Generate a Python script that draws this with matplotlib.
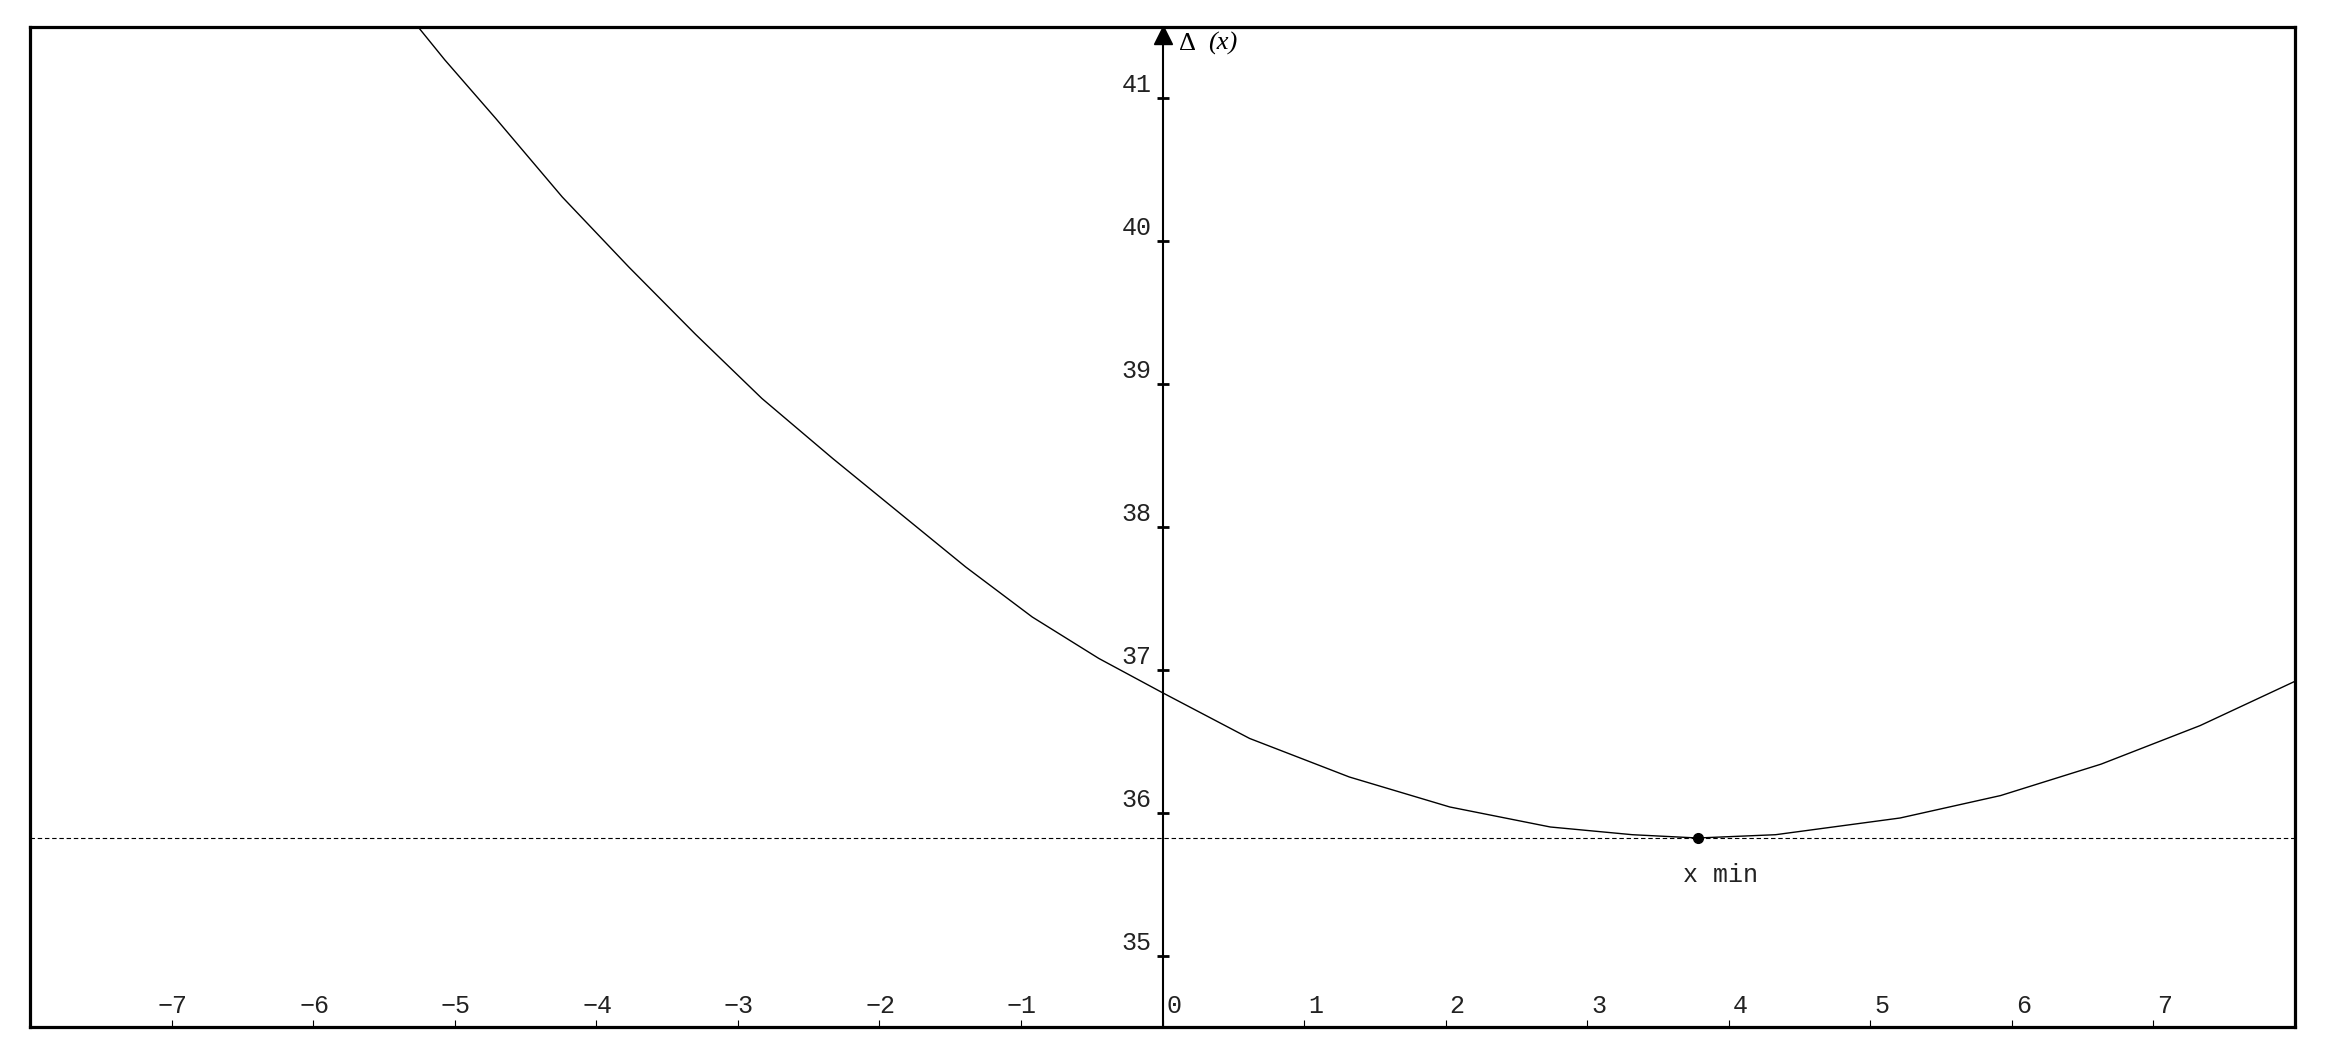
import matplotlib
matplotlib.use("Agg")
import matplotlib.pyplot as plt
from matplotlib.transforms import offset_copy

# curve points
curve_x = [-5.25, -5.07, -4.71, -4.24, -3.77, -3.30, -2.83, -2.33, -1.86, -1.39, -0.92, -0.45, 0.0,
           0.615, 1.32, 2.03, 2.74, 3.32, 3.78, 4.33, 5.21, 5.92, 6.63, 7.33, 8.0]
curve_y = [41.49, 41.27, 40.86, 40.31, 39.82, 39.35, 38.90, 38.48, 38.10, 37.72, 37.37, 37.08, 36.84,
           36.52, 36.25, 36.04, 35.90, 35.846, 35.823, 35.846, 35.963, 36.12, 36.34, 36.61, 36.92]
x_min, y_min = 3.78, 35.823
x_ticks = [-7, -6, -5, -4, -3, -2, -1, 0, 1, 2, 3, 4, 5, 6, 7]
y_ticks = [35, 36, 37, 38, 39, 40, 41]

plt.rcParams["font.family"] = ["Liberation Mono", "DejaVu Sans Mono"]

W, H = 2335, 1059
fig = plt.figure(figsize=(W / 100, H / 100), dpi=100)
ax = fig.add_axes([30 / W, 32 / H, 2265 / W, 1000 / H])
ax.set_xlim(-8, 8)
ax.set_ylim(34.5, 41.5)
for s in ax.spines.values():
    s.set_linewidth(2.3)

# x ticks sit on the bottom frame, labels drawn by hand
ax.set_xticks(x_ticks)
ax.set_yticks([])
ax.tick_params(axis="x", direction="in", length=5, width=0.8, labelbottom=False)

def off(dx, dy, tr=None):
    return offset_copy(tr or ax.transData, fig=fig, x=dx, y=dy, units="dots")

for t in x_ticks:
    dx = 4 if t >= 0 else -14
    lab = str(t).replace("-", "\u2212")
    ax.text(t, 34.5, lab, transform=off(dx, 14), ha="left", va="baseline",
            fontsize=18, color="#222222")

# vertical axis through x = 0 with arrow head
ax.axvline(0, color="black", lw=1.5)
ax.plot([0], [1.0], marker="^", ms=13, color="black",
        transform=off(0, -8, ax.get_xaxis_transform()), clip_on=False)
ax.plot([0] * len(y_ticks), y_ticks, ls="none", marker="_", ms=8, mew=2, color="black")
for t in y_ticks:
    ax.text(0, t, str(t), transform=off(-11, 6), ha="right", va="baseline",
            fontsize=18, color="#222222")

ax.text(0, 1.0, "Δ", transform=off(16, -23, ax.get_xaxis_transform()),
        ha="left", va="baseline", fontsize=19, family="Liberation Serif")
ax.text(0, 1.0, "(x)", transform=off(46, -23, ax.get_xaxis_transform()),
        ha="left", va="baseline", fontsize=19, family="Liberation Serif", style="italic")

# curve, minimum line and point
ax.plot(curve_x, curve_y, color="black", lw=1.0)
ax.axhline(y_min, color="black", lw=0.8, dashes=(4, 2.5))
ax.plot([x_min], [y_min], "o", color="black", ms=7)
ax.text(x_min, y_min, "x min", transform=off(-15, -44), ha="left", va="baseline",
        fontsize=18, color="#222222")

fig.savefig("out.png", dpi=100)
